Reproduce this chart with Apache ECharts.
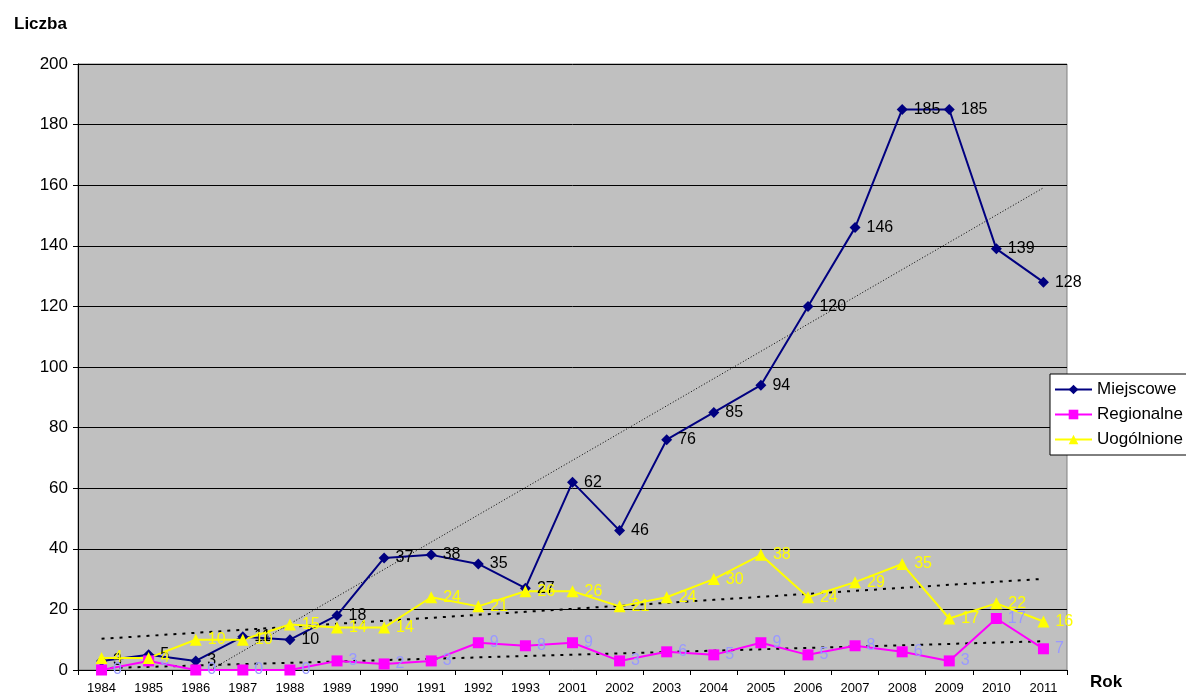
<!DOCTYPE html>
<html><head><meta charset="utf-8">
<script src="https://cdn.jsdelivr.net/npm/echarts@6/dist/echarts.min.js"></script>
<style>html,body{margin:0;padding:0;background:#fff}#c{width:1186px;height:695px}</style>
</head><body><div id="c"></div>
<script>
const years = ['1984','1985','1986','1987','1988','1989','1990','1991','1992','1993','2001','2002','2003','2004','2005','2006','2007','2008','2009','2010','2011'];
const miejscowe = [3,5,3,11,10,18,37,38,35,27,62,46,76,85,94,120,146,185,185,139,128];
const regionalne = [0,3,0,0,0,3,2,3,9,8,9,3,6,5,9,5,8,6,3,17,7];
const uogolnione = [4,4,10,10,15,14,14,24,21,26,26,21,24,30,38,24,29,35,17,22,16];
const yTicks = [0,20,40,60,80,100,120,140,160,180,200];

function trend(v){
  const n=v.length; let sx=0,sy=0,sxx=0,sxy=0;
  v.forEach((y,i)=>{const x=i+1;sx+=x;sy+=y;sxx+=x*x;sxy+=x*y;});
  const b=(n*sxy-sx*sy)/(n*sxx-sx*sx), a=(sy-b*sx)/n;
  return v.map((_,i)=>+(a+b*(i+1)).toFixed(3));
}
const font='Arial, "Liberation Sans", sans-serif';
function lbl(color){return {show:true,position:'right',distance:6,color:color,fontSize:16,fontFamily:font};}
const chart=echarts.init(document.getElementById('c'));
chart.setOption({
  animation:false,
  textStyle:{fontFamily:font},
  grid:{left:78,right:119,top:64,bottom:25,show:true,backgroundColor:'#c0c0c0',borderColor:'#808080',borderWidth:1},
  title:[
    {text:'Liczba',left:9,top:11,textStyle:{fontSize:17,fontWeight:'bold',color:'#000',fontFamily:font}},
    {text:'Rok',left:1085,top:669,textStyle:{fontSize:17,fontWeight:'bold',color:'#000',fontFamily:font}}
  ],
  legend:{
    orient:'vertical',left:1050,top:374,width:136,
    backgroundColor:'#fff',borderColor:'#000',borderWidth:1,borderRadius:0,
    padding:[7,4,7,4],itemGap:8,itemWidth:37,itemHeight:12,
    textStyle:{fontSize:17,color:'#000',fontFamily:font},
    data:['Miejscowe','Regionalne','Uogólnione']
  },
  xAxis:{type:'category',data:years,boundaryGap:true,
    axisLine:{lineStyle:{color:'#000',width:1}},
    axisTick:{show:true,alignWithLabel:false,lineStyle:{color:'#000'},length:5},
    axisLabel:{color:'#000',fontSize:13,margin:12,fontFamily:font,interval:0},
    splitLine:{show:false}},
  yAxis:{type:'value',min:0,max:200,interval:20,
    axisLine:{show:true,lineStyle:{color:'#000'}},
    axisTick:{show:true,lineStyle:{color:'#000'},length:5},
    axisLabel:{color:'#000',fontSize:17,margin:10,fontFamily:font},
    splitLine:{show:true,lineStyle:{color:'#000',width:1}}},
  series:[
    {name:'trendM',type:'line',data:trend(miejscowe),symbol:'none',silent:true,clip:true,
      lineStyle:{color:'#000',width:1,type:[1,2]},z:1},
    {name:'trendR',type:'line',data:trend(regionalne),symbol:'none',silent:true,clip:true,
      lineStyle:{color:'#000',width:2,type:[3,6]},z:1},
    {name:'trendU',type:'line',data:trend(uogolnione),symbol:'none',silent:true,clip:true,
      lineStyle:{color:'#000',width:2,type:[3,6]},z:1},
    {name:'Miejscowe',type:'line',data:miejscowe,symbol:'diamond',symbolSize:11,
      itemStyle:{color:'#000080'},lineStyle:{color:'#000080',width:2},label:lbl('#000'),z:3},
    {name:'Regionalne',type:'line',data:regionalne,symbol:'rect',symbolSize:11,
      itemStyle:{color:'#ff00ff'},lineStyle:{color:'#ff00ff',width:2},label:lbl('#9999ff'),z:3},
    {name:'Uogólnione',type:'line',data:uogolnione,symbol:'triangle',symbolSize:12,
      itemStyle:{color:'#ffff00'},lineStyle:{color:'#ffff00',width:2},label:lbl('#ffff00'),z:3}
  ]
});
</script></body></html>
